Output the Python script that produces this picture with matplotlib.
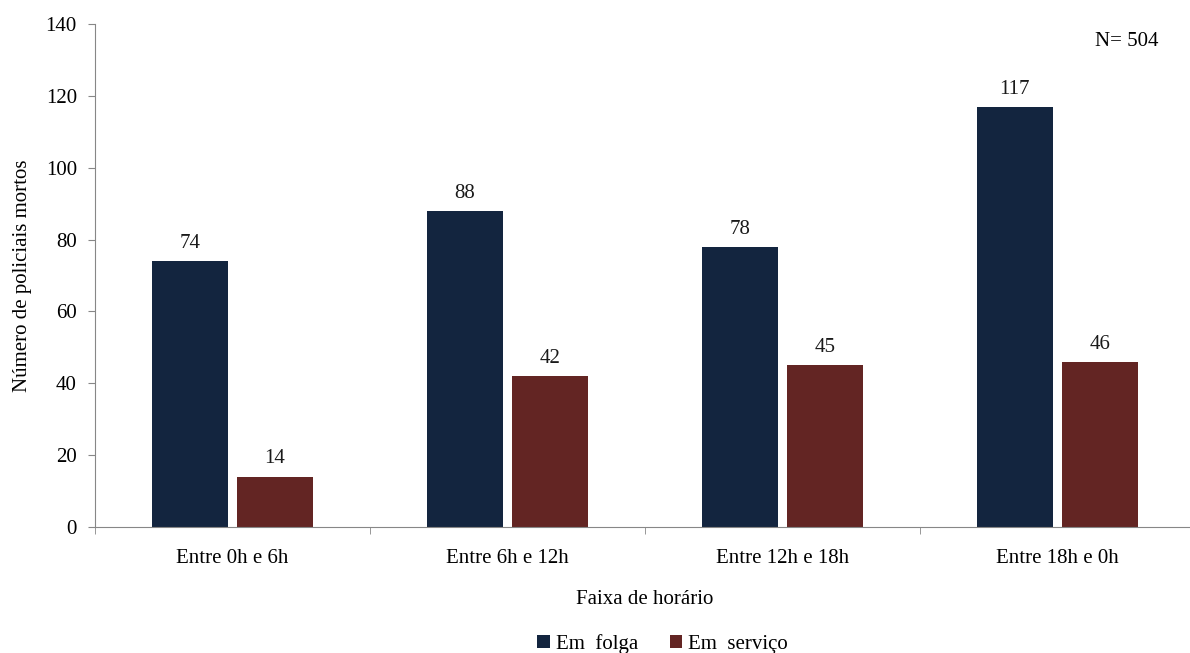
import numpy as np
import matplotlib
matplotlib.use('Agg')
import matplotlib.pyplot as plt

plt.rcParams['font.family'] = ['Liberation Serif', 'DejaVu Serif']

# Dados
faixas = ['Entre 0h e 6h', 'Entre 6h e 12h', 'Entre 12h e 18h', 'Entre 18h e 0h']
em_folga = [74, 88, 78, 117]
em_servico = [14, 42, 45, 46]

cor_folga = '#13253f'
cor_servico = '#632523'
cinza = '#878787'
fs = 15

fig = plt.figure(figsize=(11.9, 6.53), dpi=100)
ax = fig.add_axes([0.0798, 0.193, 0.9244, 0.770])

x = np.arange(len(faixas))
largura = 0.277
b1 = ax.bar(x - 0.155, em_folga, largura, color=cor_folga, label='Em  folga')
b2 = ax.bar(x + 0.155, em_servico, largura, color=cor_servico, label='Em  serviço')

# rotulos de valor
for barras in (b1, b2):
    for b in barras:
        ax.text(b.get_x() + b.get_width() / 2, b.get_height() + 2.3, str(int(b.get_height())),
                ha='center', va='bottom', fontsize=fs, color='#1a1a1a')

ax.set_xlim(-0.5, len(faixas) - 0.5)
ax.set_ylim(0, 140)
ax.set_yticks(range(0, 141, 20))
ax.set_xticks(x)
ax.set_xticklabels(faixas, fontsize=fs)
ax.set_xticks(np.arange(-0.5, len(faixas) + 0.5, 1), minor=True)
ax.tick_params(axis='x', which='major', length=0, pad=16)
ax.tick_params(axis='x', which='minor', length=5, color=cinza)
ax.tick_params(axis='y', length=5, color=cinza, labelsize=fs, pad=8)

for s in ['top', 'right']:
    ax.spines[s].set_visible(False)
for s in ['left', 'bottom']:
    ax.spines[s].set_color(cinza)

ax.set_xlabel('Faixa de horário', fontsize=fs, labelpad=16)
ax.set_ylabel('Número de policiais mortos', fontsize=fs, labelpad=10)

ax.text(0.938, 0.985, 'N= 504', transform=ax.transAxes, ha='center', va='top', fontsize=fs)

fig.legend(handles=[b1, b2], loc='lower center', bbox_to_anchor=(0.557, -0.03), ncol=2,
           frameon=False, fontsize=fs, handlelength=0.6, handleheight=0.6,
           columnspacing=1.5, handletextpad=0.3)

fig.savefig('out.png', dpi=100)
